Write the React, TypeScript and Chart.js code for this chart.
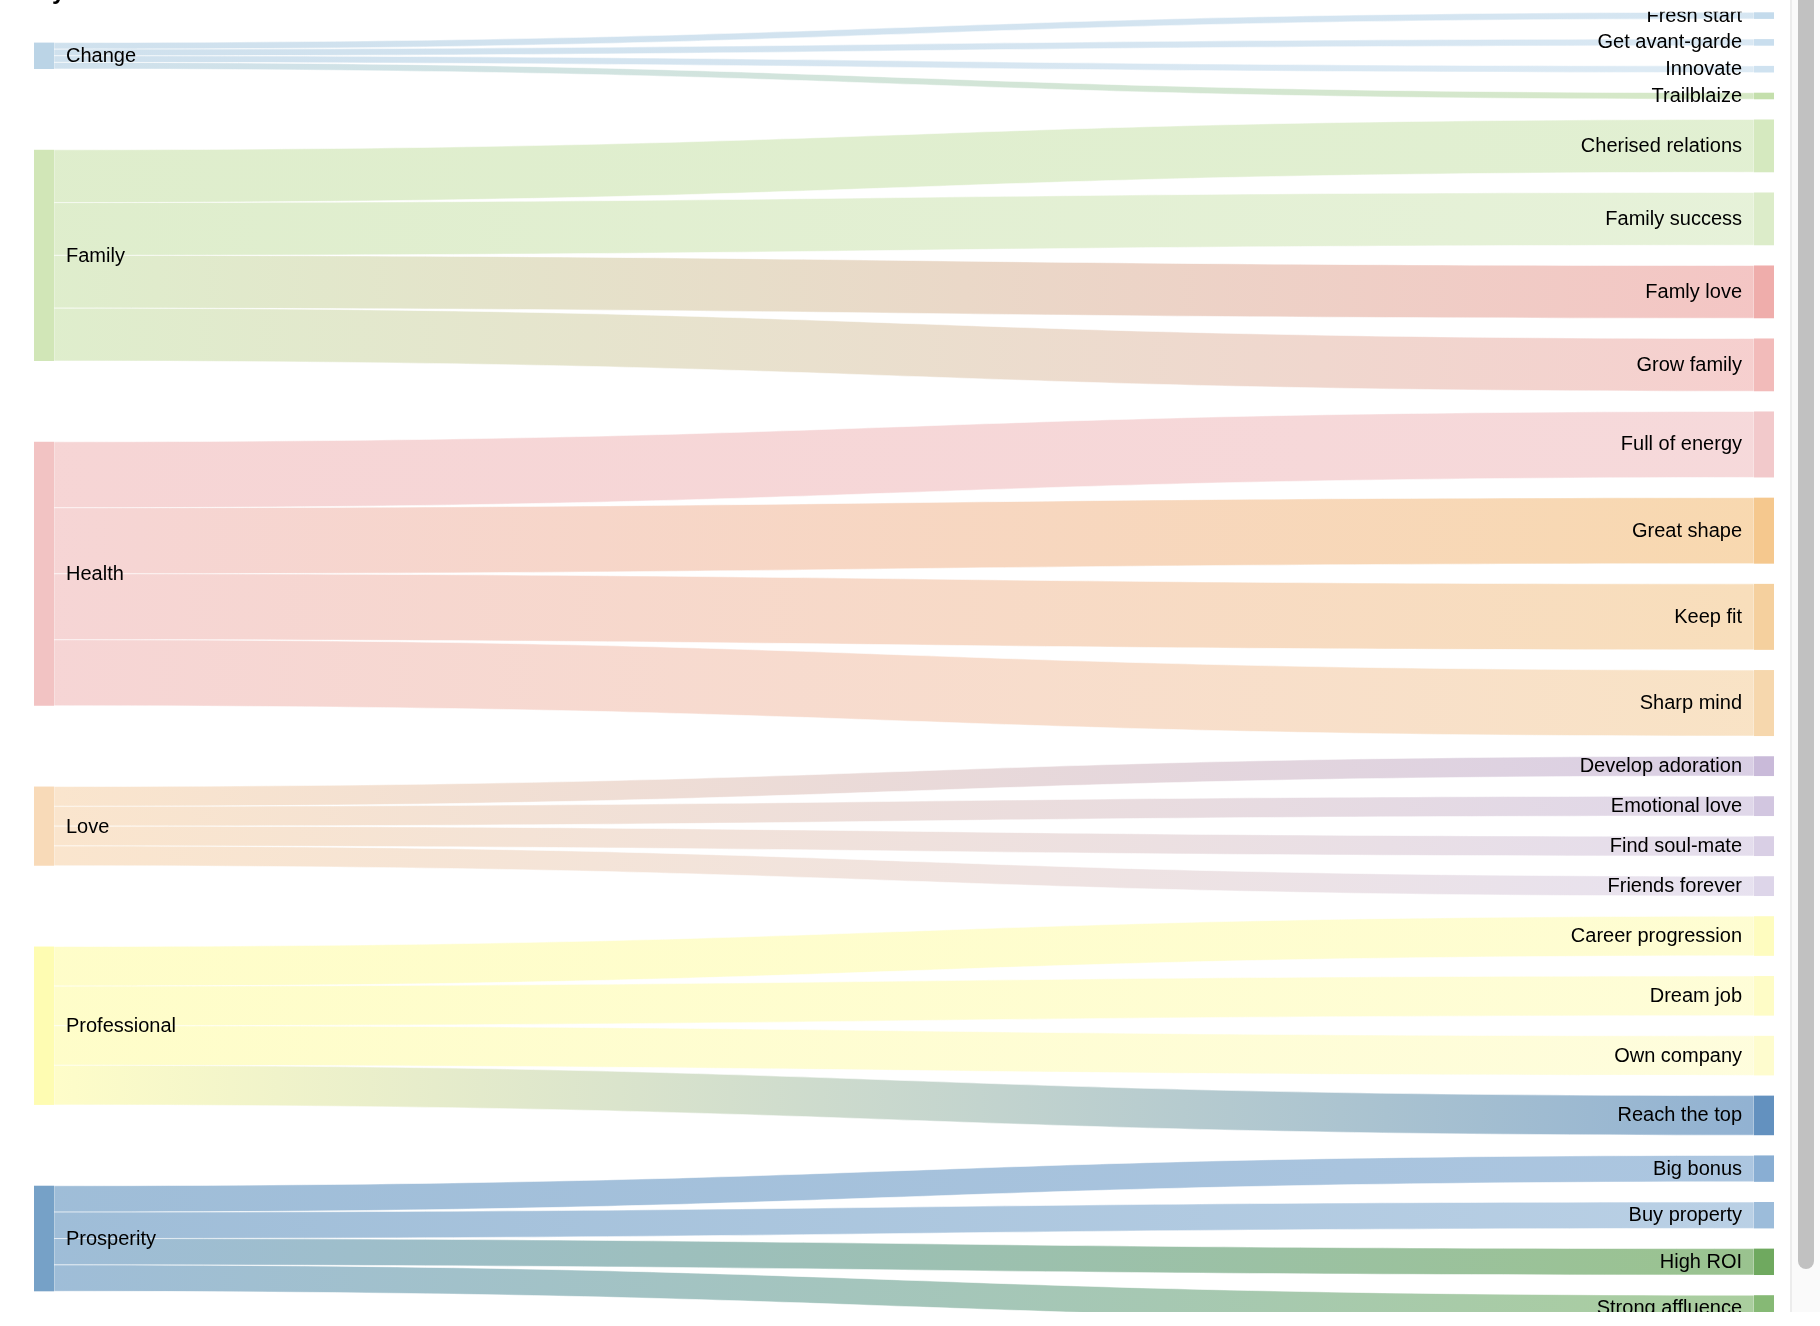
import React, { useEffect, useRef } from 'react';
import { Chart, registerables } from 'chart.js';

Chart.register(...registerables);

// ---------- data ----------
const SOURCE_LABELS = ['Change', 'Family', 'Health', 'Love', 'Professional', 'Prosperity'];
const SOURCE_COLORS = ['#bbd4e6', '#d1e6b7', '#f2c3c3', '#f8dab8', '#fefcb2', '#76a1c7'];

const TARGET_LABELS = [
  'Fresh start', 'Get avant-garde', 'Innovate', 'Trailblaize',
  'Cherised relations', 'Family success', 'Famly love', 'Grow family',
  'Full of energy', 'Great shape', 'Keep fit', 'Sharp mind',
  'Develop adoration', 'Emotional love', 'Find soul-mate', 'Friends forever',
  'Career progression', 'Dream job', 'Own company', 'Reach the top',
  'Big bonus', 'Buy property', 'High ROI', 'Strong affluence',
];
const TARGET_COLORS = [
  '#c4dbec', '#c9deee', '#cfe2f0', '#c4dfac',
  '#d5e9bf', '#dcecc9', '#efadab', '#f2bbba',
  '#f2c9cb', '#f5c88e', '#f5d09e', '#f6d7ad',
  '#c9bad9', '#d2c6e0', '#d9cfe5', '#ddd5e9',
  '#fefcbf', '#fefcc6', '#fefcce', '#6391bf',
  '#89aed3', '#9cbcda', '#6fa95f', '#86b975',
];

const LINK_SOURCE = [0, 0, 0, 0, 1, 1, 1, 1, 2, 2, 2, 2, 3, 3, 3, 3, 4, 4, 4, 4, 5, 5, 5, 5];
const LINK_TARGET = [0, 1, 2, 3, 4, 5, 6, 7, 8, 9, 10, 11, 12, 13, 14, 15, 16, 17, 18, 19, 20, 21, 22, 23];
const LINK_VALUE = [1, 1, 1, 1, 8, 8, 8, 8, 10, 10, 10, 10, 3, 3, 3, 3, 6, 6, 6, 6, 4, 4, 4, 4];

// ---------- style ----------
const NODE_PADDING = 3.06; // in value units
const PX_PER_UNIT = 6.6;
const TOP_PAD = 12.3;
const CANVAS_W = 1790;
const CANVAS_H = 1326;
const NODE_W = 20;
const FLOW_ALPHA = 0.7;
const FONT = '20px "Liberation Sans", Arial, Helvetica, sans-serif';

function hexToRgba(hex: string, a: number) {
  const h = hex.replace('#', '');
  const r = parseInt(h.slice(0, 2), 16);
  const g = parseInt(h.slice(2, 4), 16);
  const b = parseInt(h.slice(4, 6), 16);
  return `rgba(${r},${g},${b},${a})`;
}

function computeLayout() {
  const nT = TARGET_LABELS.length;
  const nS = SOURCE_LABELS.length;
  const tVal = new Array(nT).fill(0);
  const sVal = new Array(nS).fill(0);
  LINK_VALUE.forEach((v, i) => {
    tVal[LINK_TARGET[i]] += v;
    sVal[LINK_SOURCE[i]] += v;
  });
  const tY0: number[] = [];
  const tY1: number[] = [];
  let acc = 0;
  for (let i = 0; i < nT; i++) {
    tY0.push(acc);
    acc += tVal[i];
    tY1.push(acc);
    acc += NODE_PADDING;
  }
  const total = acc - NODE_PADDING;
  const sY0: number[] = [];
  const sY1: number[] = [];
  for (let j = 0; j < nS; j++) {
    let lo = Infinity;
    let hi = -Infinity;
    LINK_SOURCE.forEach((s, i) => {
      if (s === j) {
        lo = Math.min(lo, tY0[LINK_TARGET[i]]);
        hi = Math.max(hi, tY1[LINK_TARGET[i]]);
      }
    });
    const c = (lo + hi) / 2;
    sY0.push(c - sVal[j] / 2);
    sY1.push(c + sVal[j] / 2);
  }
  const sOff = sY0.slice();
  const tOff = tY0.slice();
  const order = LINK_VALUE.map((_, i) => i).sort((a, b) => LINK_TARGET[a] - LINK_TARGET[b]);
  const links = new Array(LINK_VALUE.length);
  order.forEach((i) => {
    const s = LINK_SOURCE[i];
    const t = LINK_TARGET[i];
    const v = LINK_VALUE[i];
    links[i] = { s, t, sy0: sOff[s], sy1: sOff[s] + v, ty0: tOff[t], ty1: tOff[t] + v };
    sOff[s] += v;
    tOff[t] += v;
  });
  return { total, tY0, tY1, sY0, sY1, links };
}

const layout = computeLayout();

const sankeyPlugin = {
  id: 'sankeyDraw',
  afterDatasetsDraw(chart: any) {
    const { ctx, chartArea } = chart;
    const x = chart.scales.x;
    const y = chart.scales.y;
    const xL = x.getPixelForValue(0);
    const xR = x.getPixelForValue(1);
    const xs = xL + NODE_W;
    const xt = xR - NODE_W;
    const xm = (xs + xt) / 2;
    ctx.save();
    ctx.beginPath();
    ctx.rect(0, chartArea.top - 0.5, chart.width, chart.height);
    ctx.clip();
    // flows
    layout.links.forEach((l: any) => {
      const ys0 = y.getPixelForValue(l.sy0);
      const ys1 = y.getPixelForValue(l.sy1);
      const yt0 = y.getPixelForValue(l.ty0);
      const yt1 = y.getPixelForValue(l.ty1);
      const grad = ctx.createLinearGradient(xs, 0, xt, 0);
      grad.addColorStop(0, hexToRgba(SOURCE_COLORS[l.s], FLOW_ALPHA));
      grad.addColorStop(1, hexToRgba(TARGET_COLORS[l.t], FLOW_ALPHA));
      ctx.beginPath();
      ctx.moveTo(xs, ys0);
      ctx.bezierCurveTo(xm, ys0, xm, yt0, xt, yt0);
      ctx.lineTo(xt, yt1);
      ctx.bezierCurveTo(xm, yt1, xm, ys1, xs, ys1);
      ctx.closePath();
      ctx.fillStyle = grad;
      ctx.fill();
      ctx.strokeStyle = 'rgba(255,255,255,0.55)';
      ctx.lineWidth = 1;
      ctx.stroke();
    });
    // nodes
    SOURCE_LABELS.forEach((_, j) => {
      const y0 = y.getPixelForValue(layout.sY0[j]);
      const y1 = y.getPixelForValue(layout.sY1[j]);
      ctx.fillStyle = SOURCE_COLORS[j];
      ctx.fillRect(xL, y0, NODE_W, y1 - y0);
    });
    TARGET_LABELS.forEach((_, i) => {
      const y0 = y.getPixelForValue(layout.tY0[i]);
      const y1 = y.getPixelForValue(layout.tY1[i]);
      ctx.fillStyle = TARGET_COLORS[i];
      ctx.fillRect(xt, y0, NODE_W, y1 - y0);
    });
    // labels
    ctx.font = FONT;
    ctx.fillStyle = '#000';
    ctx.textBaseline = 'middle';
    ctx.textAlign = 'left';
    SOURCE_LABELS.forEach((lab, j) => {
      const yc = y.getPixelForValue((layout.sY0[j] + layout.sY1[j]) / 2);
      ctx.fillText(lab, xs + 12, yc + 1);
    });
    ctx.textAlign = 'right';
    TARGET_LABELS.forEach((lab, i) => {
      const yc = y.getPixelForValue((layout.tY0[i] + layout.tY1[i]) / 2);
      ctx.fillText(lab, xt - 12, yc + 0.5);
    });
    ctx.restore();
  },
};

export default function App() {
  const ref = useRef<HTMLCanvasElement | null>(null);
  useEffect(() => {
    document.body.style.margin = '0';
    if (!ref.current) return;
    const plotH = layout.total * PX_PER_UNIT;
    const chart = new Chart(ref.current, {
      type: 'scatter',
      data: { datasets: [] },
      options: {
        animation: false,
        responsive: false,
        maintainAspectRatio: false,
        devicePixelRatio: 1,
        layout: {
          padding: {
            left: 34,
            right: CANVAS_W - 1774,
            top: TOP_PAD,
            bottom: CANVAS_H - TOP_PAD - plotH,
          },
        },
        plugins: { legend: { display: false }, tooltip: { enabled: false }, title: { display: false } },
        scales: {
          x: { type: 'linear', min: 0, max: 1, display: false },
          y: { type: 'linear', min: 0, max: layout.total, reverse: true, display: false },
        },
      },
      plugins: [sankeyPlugin],
    } as any);
    return () => chart.destroy();
  }, []);

  return (
    <div style={{ position: 'fixed', left: 0, top: 0, width: 1820, height: 1326, background: '#fff', overflow: 'hidden' }}>
      <canvas ref={ref} width={CANVAS_W} height={CANVAS_H} style={{ position: 'absolute', left: 0, top: 0 }} />
      <span
        style={{
          position: 'absolute', left: 52, top: -21, fontFamily: '"Liberation Sans", Arial, sans-serif',
          fontSize: 24, lineHeight: '24px', fontWeight: 'bold', color: '#000',
        }}
      >
        y
      </span>
      <div style={{ position: 'absolute', left: 1790, top: 0, width: 30, height: 1312, background: '#fafafa', borderLeft: '2px solid #ececec', boxSizing: 'border-box' }} />
      <div style={{ position: 'absolute', left: 1798, top: -20, width: 16, height: 1289, background: '#c1c1c1', borderRadius: 8 }} />
      <div style={{ position: 'absolute', left: 0, top: 1312, width: 1820, height: 14, background: '#fff' }} />
    </div>
  );
}
